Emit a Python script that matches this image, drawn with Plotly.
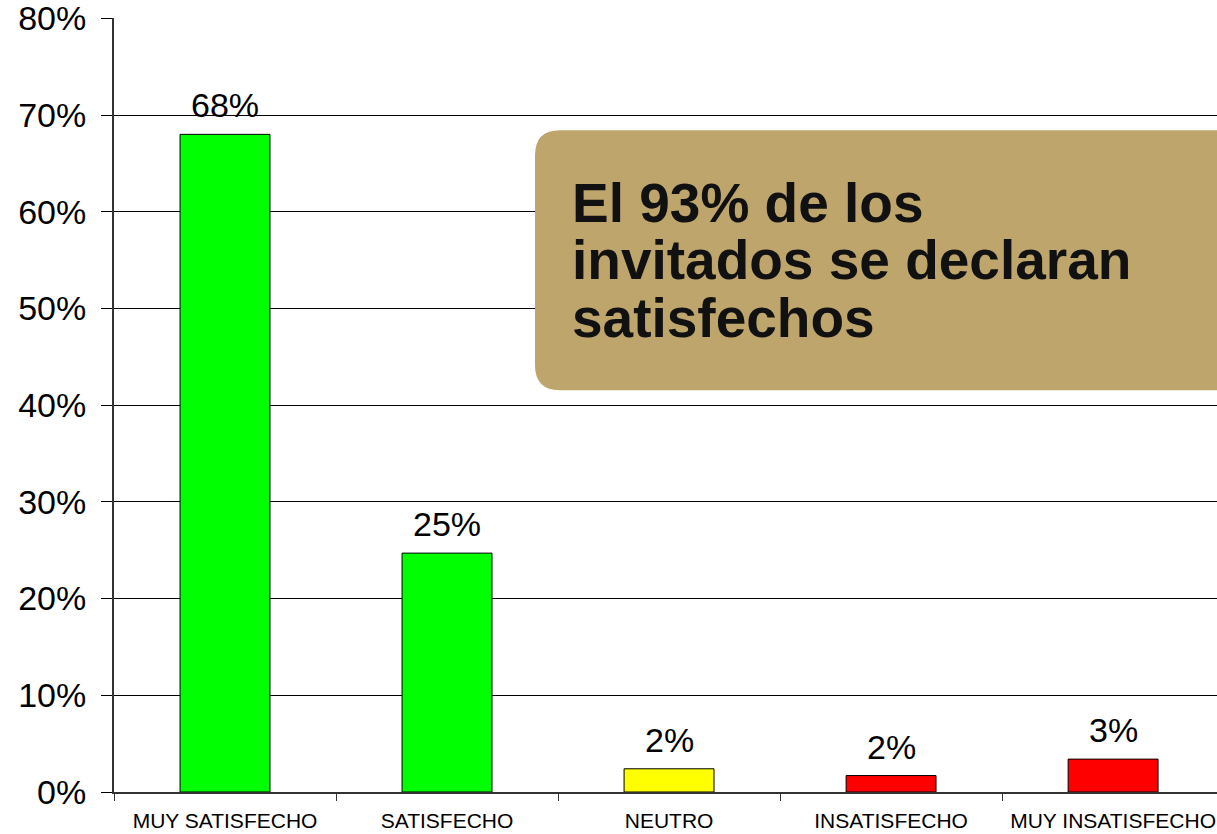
import plotly.graph_objects as go

categories = ["MUY SATISFECHO", "SATISFECHO", "NEUTRO", "INSATISFECHO", "MUY INSATISFECHO"]
values = [68.0, 24.7, 2.4, 1.7, 3.4]
labels = ["68%", "25%", "2%", "2%", "3%"]
colors = ["#00FF00", "#00FF00", "#FFFF00", "#FF0000", "#FF0000"]
y_ticks = [0, 10, 20, 30, 40, 50, 60, 70, 80]
note_lines = ["El 93% de los", "invitados se declaran", "satisfechos"]

FONT = "Liberation Sans, Arial, sans-serif"

fig = go.Figure()
fig.add_trace(go.Bar(
    x=categories, y=values,
    marker=dict(color=colors, line=dict(color="black", width=1)),
    hoverinfo="skip",
))

for c, v, t in zip(categories, values, labels):
    fig.add_annotation(x=c, y=v, text=t, showarrow=False, xanchor="center",
                       yanchor="bottom", yshift=8,
                       font=dict(family=FONT, size=34, color="black"))

# rounded call-out box (paper coords)
x0, x1, y0, y1 = 0.3817, 1.05, 0.519, 0.855
rx, ry = 0.0227, 0.0323
path = (f"M {x0+rx},{y1} L {x1},{y1} L {x1},{y0} L {x0+rx},{y0} "
        f"Q {x0},{y0} {x0},{y0+ry} L {x0},{y1-ry} Q {x0},{y1} {x0+rx},{y1} Z")
fig.add_shape(type="path", path=path, xref="paper", yref="paper",
              fillcolor="#BEA56C", line=dict(width=0), layer="above")

line_y = [0.7616, 0.6867, 0.6118]
for txt, yy in zip(note_lines, line_y):
    fig.add_annotation(x=0.413, y=yy, xref="paper", yref="paper", text=f"<b>{txt}</b>",
                       showarrow=False, xanchor="left", yanchor="middle", align="left",
                       font=dict(family=FONT, size=55, color="#111111"))

fig.update_layout(
    width=1217, height=834,
    margin=dict(l=114, r=0, t=18, b=42, autoexpand=False),
    paper_bgcolor="white", plot_bgcolor="white",
    showlegend=False, bargap=0.595,
    font=dict(family=FONT, color="black"),
)
fig.update_yaxes(
    range=[0, 80.03], tickvals=y_ticks, ticktext=[f"{v}%" for v in y_ticks],
    showgrid=True, gridcolor="black", gridwidth=1,
    showline=True, linecolor="#333333", linewidth=2,
    ticks="outside", ticklen=11, tickcolor="black", tickwidth=1,
    tickfont=dict(family=FONT, size=34, color="black"),
    ticklabelstandoff=8, ticklabeloverflow="allow", automargin=False,
    zeroline=False, fixedrange=True,
)
fig.update_xaxes(
    range=[-0.5, 4.468],
    showline=True, linecolor="#333333", linewidth=2,
    ticks="outside", tickson="boundaries", ticklen=7, tickcolor="#333333",
    tickfont=dict(family=FONT, size=21, color="black"),
    ticklabelstandoff=9, ticklabeloverflow="allow", automargin=False,
    showgrid=False, fixedrange=True,
)

fig.write_html("out.html", config={"displayModeBar": False},
               post_script="document.body.style.margin='0';document.body.style.overflow='hidden';")
